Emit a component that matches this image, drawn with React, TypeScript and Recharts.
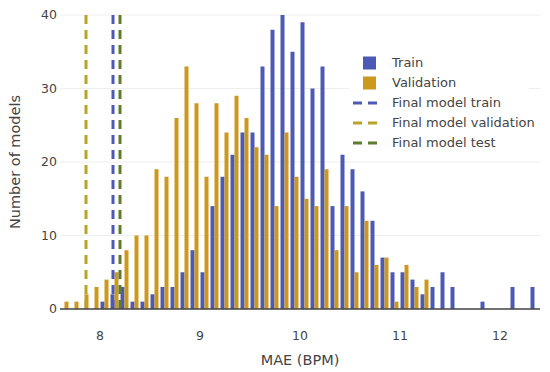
import React from 'react';
import { BarChart, Bar, XAxis, YAxis, CartesianGrid, ReferenceLine } from 'recharts';

const binCenters = [
  7.65, 7.75, 7.85, 7.95, 8.05, 8.15, 8.25, 8.35, 8.45, 8.55, 8.65, 8.75,
  8.85, 8.95, 9.05, 9.15, 9.25, 9.35, 9.45, 9.55, 9.65, 9.75, 9.85, 9.95,
  10.05, 10.15, 10.25, 10.35, 10.45, 10.55, 10.65, 10.75, 10.85, 10.95, 11.05, 11.15,
  11.25, 11.35, 11.45, 11.55, 11.65, 11.75, 11.85, 11.95, 12.05, 12.15, 12.25, 12.35,
];
const trainCounts = [
  0, 0, 0, 0, 1, 2, 3, 1, 1, 2, 3, 3,
  5, 8, 5, 14, 18, 21, 24, 24, 33, 38, 40, 35,
  39, 30, 33, 14, 21, 19, 16, 12, 7, 5, 5, 4,
  2, 3, 5, 3, 0, 0, 1, 0, 0, 3, 0, 3,
];
const validationCounts = [
  1, 1, 2, 3, 4, 5, 8, 10, 10, 19, 18, 26,
  33, 28, 18, 28, 24, 29, 26, 22, 21, 14, 24, 18,
  15, 14, 19, 8, 14, 5, 12, 6, 7, 1, 6, 3,
  4, 0, 0, 0, 0, 0, 0, 0, 0, 0, 0, 0,
];
const xTicks = [8, 9, 10, 11, 12];
const yTicks = [0, 10, 20, 30, 40];
const finalModelTrain = 8.13;
const finalModelValidation = 7.86;
const finalModelTest = 8.2;

const TRAIN = '#4c5ab5';
const VALID = '#cc981e';
const LINE_TRAIN = '#4c5ab5';
const LINE_VALID = '#b9a328';
const LINE_TEST = '#5e7d2e';
const FONT = '"DejaVu Sans", Verdana, sans-serif';

const data = binCenters.map((x, i) => ({
  x,
  train: trainCounts[i],
  validation: validationCounts[i],
}));

const legendItems = [
  { kind: 'box', color: TRAIN, label: 'Train' },
  { kind: 'box', color: VALID, label: 'Validation' },
  { kind: 'line', color: LINE_TRAIN, label: 'Final model train' },
  { kind: 'line', color: LINE_VALID, label: 'Final model validation' },
  { kind: 'line', color: LINE_TEST, label: 'Final model test' },
];

export default function App() {
  return (
    <div style={{ position: 'absolute', left: 0, top: 0, width: 550, height: 372, background: '#fff', fontFamily: FONT }}>
      <BarChart
        width={550}
        height={372}
        data={data}
        margin={{ top: 15, right: 10, left: 0, bottom: 0 }}
        barCategoryGap="5%"
        barGap={0}
      >
        <CartesianGrid vertical={false} stroke="#eeeeee" strokeWidth={1} />
        <XAxis
          dataKey="x"
          type="number"
          domain={[7.6, 12.4]}
          ticks={xTicks}
          allowDataOverflow
          height={63}
          tickLine={false}
          tickSize={0}
          tickMargin={22}
          axisLine={{ stroke: '#444', strokeWidth: 1.5 }}
          tick={{ fill: '#444', fontSize: 12.5, fontFamily: FONT }}
          label={{ value: 'MAE (BPM)', position: 'insideBottom', offset: 7, fill: '#444', fontSize: 14.5, fontFamily: FONT }}
        />
        <YAxis
          type="number"
          domain={[0, 40]}
          ticks={yTicks}
          allowDataOverflow
          width={60}
          tickLine={false}
          tickSize={0}
          tickMargin={3}
          axisLine={false}
          tick={{ fill: '#444', fontSize: 12.5, fontFamily: FONT }}
          label={{ value: 'Number of models', angle: -90, position: 'center', dx: -15, fill: '#444', fontSize: 14.5, fontFamily: FONT }}
        />
        <Bar dataKey="train" fill={TRAIN} isAnimationActive={false} />
        <Bar dataKey="validation" fill={VALID} isAnimationActive={false} />
        <ReferenceLine x={finalModelTrain} stroke={LINE_TRAIN} strokeWidth={3} strokeDasharray="9 6" ifOverflow="extendDomain" />
        <ReferenceLine x={finalModelValidation} stroke={LINE_VALID} strokeWidth={3} strokeDasharray="9 6" ifOverflow="extendDomain" />
        <ReferenceLine x={finalModelTest} stroke={LINE_TEST} strokeWidth={3} strokeDasharray="9 6" ifOverflow="extendDomain" />
      </BarChart>
      <div
        style={{
          position: 'absolute',
          left: 349,
          top: 52,
          width: 180,
          height: 102,
          background: '#fff',
        }}
      >
        {legendItems.map((it, i) => (
          <div key={it.label} style={{ position: 'absolute', left: 0, top: 1 + i * 20, height: 20, width: 180 }}>
            <svg width={40} height={20} style={{ position: 'absolute', left: 0, top: 0 }}>
              {it.kind === 'box' ? (
                <rect x={14} y={3.5} width={13} height={13} fill={it.color} />
              ) : (
                <line x1={4} x2={34} y1={10} y2={10} stroke={it.color} strokeWidth={3} strokeDasharray="9 6" />
              )}
            </svg>
            <span
              style={{
                position: 'absolute',
                left: 43,
                top: 0,
                lineHeight: '20px',
                fontSize: 13,
                color: '#444',
                whiteSpace: 'nowrap',
                fontFamily: FONT,
              }}
            >
              {it.label}
            </span>
          </div>
        ))}
      </div>
    </div>
  );
}
